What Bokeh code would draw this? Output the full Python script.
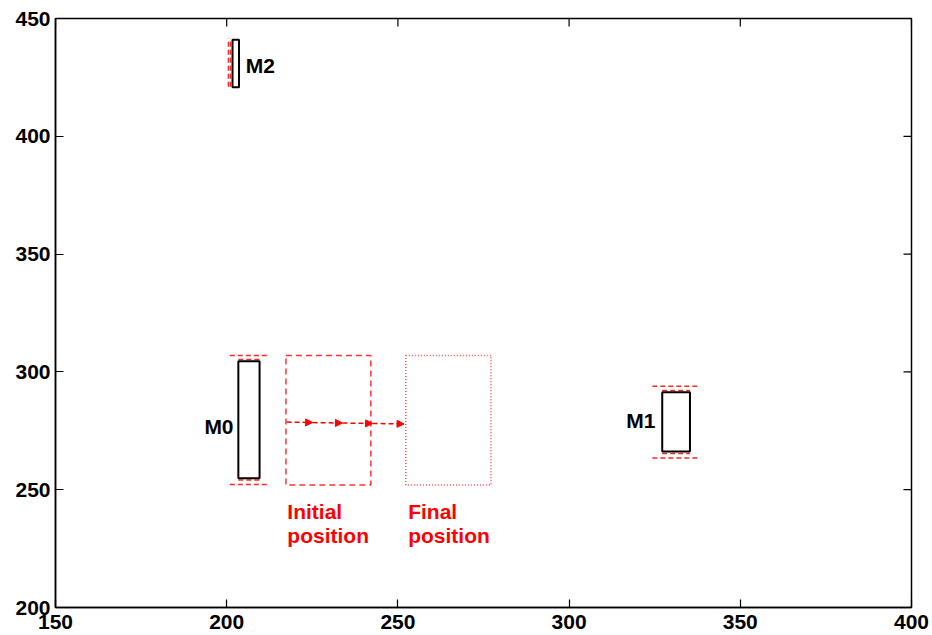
import math
from bokeh.plotting import figure
from bokeh.models import (ColumnDataSource, LinearAxis, FixedTicker, Arrow,
                          NormalHead, Range1d)
from bokeh.core.properties import value
from bokeh.embed import file_html
from bokeh.resources import INLINE

FONT = "Liberation Sans"
RED = "#ff0000"

# Mirror outlines (black boxes)
mirror_names = ["M0", "M1", "M2"]
mirror_left = [203.4, 327.2, 201.7]
mirror_right = [209.6, 335.3, 203.6]
mirror_bottom = [254.9, 266.2, 420.8]
mirror_top = [304.5, 291.4, 441.0]

# Label anchors for the mirror names
label_x = [202.0, 325.2, 205.6]
label_y = [277.0, 279.4, 430.2]
label_align = ["right", "right", "left"]

# Travel limits of the mirrors (red dashed), horizontal limits for M0/M1
lim_h_x0 = [200.9, 203.4, 200.9, 203.4, 324.3, 327.2, 324.3, 327.2]
lim_h_x1 = [211.9, 209.6, 211.9, 209.6, 338.3, 335.3, 338.3, 335.3]
lim_h_y = [307.0, 305.3, 252.2, 254.1, 293.9, 292.1, 263.5, 265.4]
# vertical limits for M2
lim_v_x = [200.5, 201.1]
lim_v_y0 = [421.0, 421.0]
lim_v_y1 = [441.5, 441.5]

# Initial and final positions of the moving element
init_box = dict(left=[217.3], right=[242.1], bottom=[252.0], top=[307.0])
final_box = dict(left=[252.3], right=[277.2], bottom=[252.0], top=[307.0])

# Displacement steps
step_x0 = [217.5, 225.1, 233.8, 242.6]
step_x1 = [225.1, 233.8, 242.6, 251.8]
step_y0 = [278.7, 278.5, 278.3, 278.1]
step_y1 = [278.5, 278.3, 278.1, 277.9]

# Captions under the two positions
caption_x = [217.7, 217.7, 253.0, 253.0]
caption_y = [240.6, 230.4, 240.6, 230.4]
caption_text = ["Initial", "position", "Final", "position"]

x_ticks = [150, 200, 250, 300, 350, 400]
y_ticks = [200, 250, 300, 350, 400, 450]

p = figure(width=932, height=635, output_backend="svg", toolbar_location=None,
           x_range=Range1d(150, 400), y_range=Range1d(200, 450),
           min_border_left=55, min_border_right=21, min_border_top=18,
           min_border_bottom=28, x_axis_location=None, y_axis_location=None)
p.grid.visible = False
p.outline_line_color = "black"
p.outline_line_width = 1.5
p.background_fill_color = "white"
p.border_fill_color = "white"


def make_axis(ticks, standoff):
    ax = LinearAxis(ticker=FixedTicker(ticks=ticks))
    ax.major_tick_in = 8
    ax.major_tick_out = 0
    ax.minor_tick_line_color = None
    ax.major_tick_line_color = "black"
    ax.major_tick_line_width = 1.2
    ax.axis_line_color = "black"
    ax.axis_line_width = 1.5
    ax.major_label_text_font = FONT
    ax.major_label_text_font_style = "bold"
    ax.major_label_text_color = "black"
    ax.major_label_text_font_size = "21px"
    ax.major_label_standoff = standoff
    return ax


p.add_layout(make_axis(x_ticks, 7), "below")
p.add_layout(make_axis(y_ticks, 5), "left")

# inward ticks along the top and right edges of the box
p.ray(x=x_ticks, y=[450] * len(x_ticks), length=8, length_units="screen",
      angle=-math.pi / 2, line_color="black", line_width=1.2)
p.ray(x=[400] * len(y_ticks), y=y_ticks, length=8, length_units="screen",
      angle=math.pi, line_color="black", line_width=1.2)

# travel limits
p.segment(x0=lim_h_x0, x1=lim_h_x1, y0=lim_h_y, y1=lim_h_y,
          line_color=RED, line_width=1.5, line_dash="5 3", line_alpha=0.85)
p.segment(x0=lim_v_x, x1=lim_v_x, y0=lim_v_y0, y1=lim_v_y1,
          line_color=RED, line_width=1.5, line_dash="5 3", line_alpha=0.85)

# mirrors
p.quad(left=mirror_left, right=mirror_right, bottom=mirror_bottom,
       top=mirror_top, fill_alpha=0, line_color="black", line_width=2)
p.text(x=label_x, y=label_y, text=mirror_names,
       text_align=label_align, text_baseline="middle",
       text_font=value(FONT), text_font_style="bold",
       text_font_size="21px", text_color="black")

# initial / final positions
p.quad(fill_alpha=0, line_color=RED, line_width=1.5, line_dash="6 4",
       line_alpha=0.8, **init_box)
p.quad(fill_alpha=0, line_color=RED, line_width=1.5, line_dash="1 2",
       line_alpha=0.7, **final_box)

steps = ColumnDataSource(dict(x0=step_x0, x1=step_x1, y0=step_y0, y1=step_y1))
p.add_layout(Arrow(end=NormalHead(size=7, fill_color=RED, line_color=RED,
                                  line_width=1),
                   x_start="x0", y_start="y0", x_end="x1", y_end="y1",
                   source=steps, line_color=RED, line_width=1.5,
                   line_dash="5 3"))

p.text(x=caption_x, y=caption_y, text=caption_text,
       text_align="left", text_baseline="alphabetic",
       text_font=value(FONT), text_font_style="bold",
       text_font_size="21px", text_color=RED)

open("out.html", "w").write(file_html(p, INLINE))
